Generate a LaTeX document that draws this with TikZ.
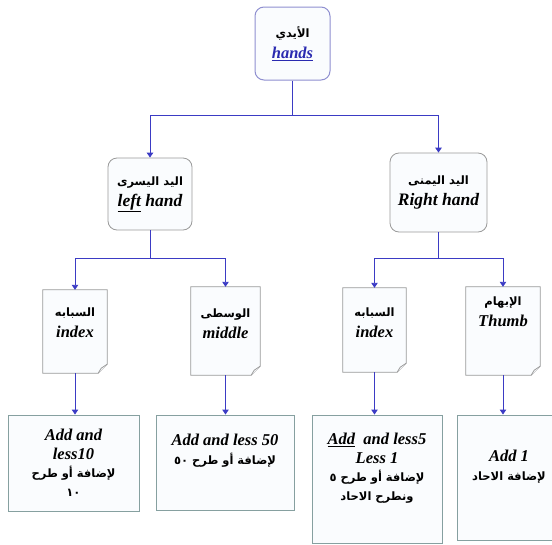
\documentclass[tikz,border=0pt]{standalone}
\usepackage{fontspec}
\setmainfont{Liberation Serif}
\newfontfamily\arabicfont[Script=Arabic]{DejaVu Sans}
\TeXXeTstate=1
\usetikzlibrary{arrows.meta}
\definecolor{conn}{HTML}{3B3BC4}
\definecolor{topline}{HTML}{8F8FD0}
\definecolor{boxline}{HTML}{9A9A9A}
\definecolor{botline}{HTML}{86A0A0}
\definecolor{boxfill}{HTML}{FAFCFE}
\definecolor{linkblue}{HTML}{2A2AB0}
\newcommand\ent[1]{{\fontsize{16.5}{19}\selectfont\bfseries\itshape #1}}
\newcommand\entb[1]{{\fontsize{17.5}{20}\selectfont\bfseries\itshape #1}}
\newcommand\art[1]{{\arabicfont\fontsize{11.5}{19}\selectfont\bfseries\beginR #1\endR}}
\newcommand\docoutline[1]{%
  \filldraw[docline] (#1.north west) -- (#1.north east) -- ([yshift=9pt]#1.south east)
     -- ([xshift=-9pt]#1.south east) -- (#1.south west) -- cycle;
  \draw[docline] ([yshift=9pt]#1.south east) -- ([xshift=-6pt,yshift=5pt]#1.south east)
     -- ([xshift=-9pt]#1.south east);}
\tikzset{
  rbox/.style={draw=boxline, fill=boxfill, rounded corners=9pt, line width=0.8pt, align=center,
     font=\fontsize{16.5}{19}\selectfont, inner sep=0pt},
  docbox/.style={draw=none, inner sep=0pt},
  docline/.style={draw=boxline, fill=boxfill, line width=0.8pt},
  lbl/.style={align=center, inner sep=0pt, font=\fontsize{16.5}{19}\selectfont},
  bbox/.style={draw=botline, fill=boxfill, line width=0.9pt, align=center, inner sep=0pt,
     font=\fontsize{16.5}{18.5}\selectfont},
  cline/.style={draw=conn, line width=0.9pt},
  arr/.style={cline, -{Triangle[length=5pt,width=6.5pt]}}
}
\begin{document}
\begin{tikzpicture}[x=1pt,y=-1pt]
\useasboundingbox (0,0) rectangle (552,544);
% level 0
\node[rbox, draw=topline, line width=1pt, minimum width=75pt, minimum height=73pt] (top) at (292.5,43.5)
  {\art{الأيدي}\\[2pt]\ent{\color{linkblue}\underline{hands}}};
% level 1
\node[rbox, minimum width=84pt, minimum height=72pt] (lh) at (150,194)
  {\art{اليد اليسرى}\\[2pt]\entb{\underline{left} hand}};
\node[rbox, minimum width=97pt, minimum height=79pt] (rh) at (438.5,192.5)
  {\art{اليد اليمنى}\\[2pt]\entb{Right hand}};
% level 2 (document shapes)
\node[docbox, minimum width=64pt, minimum height=83pt] (ixl) at (75,331.5) {};
\node[docbox, minimum width=69pt, minimum height=88pt] (mid) at (225.5,331) {};
\node[docbox, minimum width=63pt, minimum height=84pt] (ixr) at (374.5,330) {};
\node[docbox, minimum width=74pt, minimum height=88pt] (thb) at (503,331) {};
\docoutline{ixl}\docoutline{mid}\docoutline{ixr}\docoutline{thb}
\node[lbl] (ixlt) at (75,323) {\art{السبابه}\\[2pt]\ent{index}};
\node[lbl] (midt) at (225.5,324) {\art{الوسطى}\\[2pt]\ent{middle}};
\node[lbl] (ixrt) at (374.5,323) {\art{السبابه}\\[2pt]\ent{index}};
\node[lbl] (thbt) at (503,312) {\art{الإبهام}\\[2pt]\ent{Thumb}};
% level 3
\node[bbox, minimum width=131pt, minimum height=96pt] (b1) at (73.5,463)
  {\ent{Add and}\\\ent{less10}\\\art{لإضافة أو طرح}\\\art{١٠}};
\node[bbox, minimum width=138pt, minimum height=95pt] (b2) at (225,462.5)
  {\ent{Add and less 50}\\\art{لإضافة أو طرح ٥٠}\\[8pt]};
\node[bbox, minimum width=130pt, minimum height=128pt] (b3) at (377,479)
  {\ent{\underline{Add}\ \ and less5}\\\ent{Less 1}\\\art{لإضافة أو طرح ٥}\\\art{ونطرح الاحاد}\\[6pt]};
\node[bbox, minimum width=104pt, minimum height=125pt] (b4) at (509,477.5)
  {\ent{Add 1}\\\art{لإضافة الاحاد}\\[6pt]};
% connectors
\coordinate (j0) at (292.5,115);
\coordinate (j1) at (150,258);
\coordinate (j2) at (438.5,258);
\draw[cline] (top.south) -- (j0);
\draw[arr] (j0) -| (lh.north);
\draw[arr] (j0) -| (rh.north);
\draw[cline] (lh.south) -- (j1);
\draw[arr] (j1) -| (ixl.north);
\draw[arr] (j1) -| (mid.north);
\draw[cline] (rh.south) -- (j2);
\draw[arr] (j2) -| (ixr.north);
\draw[arr] (j2) -| (thb.north);
\draw[arr] (ixl.south) -- (ixl.south |- b1.north);
\draw[arr] (mid.south) -- (mid.south |- b2.north);
\draw[arr] (ixr.south) -- (ixr.south |- b3.north);
\draw[arr] (thb.south) -- (thb.south |- b4.north);
\end{tikzpicture}
\end{document}
